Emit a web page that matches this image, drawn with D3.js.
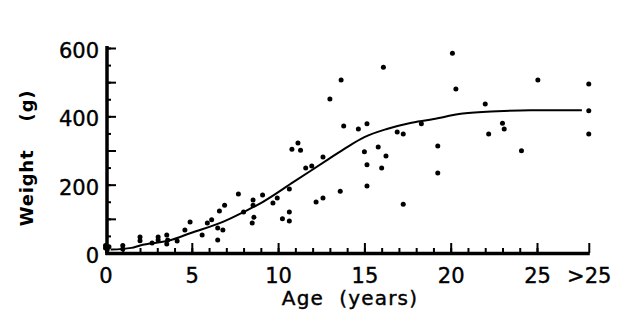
<!DOCTYPE html>
<html>
<head>
<meta charset="utf-8">
<script src="https://cdn.jsdelivr.net/npm/d3@7"></script>
<style>
  html, body { margin: 0; padding: 0; background: #fff; }
  svg { display: block; }
  text { font-family: "DejaVu Sans", sans-serif; fill: #000; }
</style>
</head>
<body>
<svg id="chart" width="621" height="327"></svg>
<script>
// ---- Data ----
// age 28 stands for the ">25" group
const pointAges = [
  0, 0, 0.1, 0.2, 1.0, 1.0, 2.0, 2.0, 2.7, 3.05, 3.05, 3.55, 3.6, 3.55, 4.15, 4.6, 4.9,
  5.6, 5.9, 6.15, 6.5, 6.5, 6.8, 6.6, 6.9, 7.7, 8.0, 8.55, 8.55, 8.6, 8.5, 9.1,
  9.7, 9.95, 10.25, 10.65, 10.65, 10.65, 10.8, 11.15, 11.3, 11.6, 11.95, 12.2, 12.6, 12.6,
  13.0, 13.6, 13.65, 13.8, 14.65, 15.0, 15.15, 15.15, 15.15, 15.8, 16.0, 16.1, 16.25,
  16.9, 17.25, 17.25, 18.3, 19.25, 19.25, 20.1, 20.3, 22.0, 22.2, 23.0, 23.1, 24.1, 25.05,
  28, 28, 28
];
const pointWeights = [
  15, 22, 10, 18, 22, 12, 47, 36, 29, 47, 38, 53, 38, 26, 35, 67, 91,
  53, 88, 97, 73, 38, 67, 123, 140, 173, 120, 155, 140, 105, 88, 170,
  146, 161, 100, 120, 94, 187, 304, 322, 301, 249, 255, 149, 161, 281,
  451, 181, 506, 372, 363, 296, 378, 258, 196, 310, 249, 544, 284,
  354, 348, 143, 378, 313, 234, 585, 480, 436, 348, 380, 363, 299, 506,
  495, 416, 348
];
const curveAges =    [0.3, 1.5, 2.0, 3.8, 4.9, 6.8, 8.0, 9.0, 10.9, 12.9, 14.0, 15.0, 16.3, 17.6, 18.8, 20.7, 22.7, 24.6, 27.6];
const curveWeights = [10,  15,  22,  38,  58,  91,  120, 146, 208,  274,  310,  339,  363,  380,  390,  408,  415,  418,  418];
const xTickValues = [0, 5, 10, 15, 20, 25, 28];
const xTickLabels = ["0", "5", "10", "15", "20", "25", ">25"];
const xMinorTicks = d3.range(0, 26);
const yTickValues = [0, 200, 400, 600];
const yMinorTicks = d3.range(0, 601, 50);

// ---- Layout ----
const svg = d3.select("#chart");
const x = d3.scaleLinear().domain([0, 25]).range([105.5, 537]);
const y = d3.scaleLinear().domain([0, 600]).range([253, 48]);

// minor ticks (x: every year, y: every 50 g)
const xMinor = d3.axisBottom(x).tickValues(xMinorTicks).tickSize(-5).tickFormat("");
const gxm = svg.append("g").attr("transform", `translate(0,${y(0)})`).call(xMinor);
const xMajor = d3.axisBottom(x).tickValues(xTickValues).tickSize(-10)
  .tickFormat((d, i) => xTickLabels[i]).tickPadding(0);
const gx = svg.append("g").attr("transform", `translate(0,${y(0)})`).call(xMajor);

const yMinor = d3.axisLeft(y).tickValues(yMinorTicks).tickSize(-4).tickFormat("");
const gym = svg.append("g").attr("transform", `translate(${x(0) + 1.5},0)`).call(yMinor);
const yMajor = d3.axisLeft(y).tickValues(d3.range(0, 601, 100)).tickSize(-9)
  .tickFormat(d => yTickValues.includes(d) ? d : "");
const gy = svg.append("g").attr("transform", `translate(${x(0) + 1.5},0)`).call(yMajor);

[gxm, gx, gym, gy].forEach(g => {
  g.select(".domain").remove();
  g.selectAll(".tick line").attr("stroke", "#000").attr("stroke-width", 2);
});

gx.selectAll(".tick text")
  .attr("font-size", 21).attr("dy", null).attr("y", 30)
  .attr("font-family", "DejaVu Sans").attr("stroke", "#000").attr("stroke-width", 0.4);
gy.selectAll(".tick text")
  .attr("font-size", 21).attr("dy", null).attr("x", -8).attr("y", 9.5)
  .attr("font-family", "DejaVu Sans").attr("stroke", "#000").attr("stroke-width", 0.4);

// axis lines
svg.append("line").attr("x1", x(0) + 1.5).attr("x2", x(0) + 1.5)
  .attr("y1", y(600) - 2).attr("y2", y(0) + 2)
  .attr("stroke", "#000").attr("stroke-width", 3.5);
svg.append("line").attr("x1", x(0)).attr("x2", x(28) + 1)
  .attr("y1", y(0) + 0.5).attr("y2", y(0) + 0.5)
  .attr("stroke", "#000").attr("stroke-width", 3.5);

// fitted curve
const line = d3.line().x((d, i) => x(curveAges[i])).y((d, i) => y(curveWeights[i]))
  .curve(d3.curveMonotoneX);
svg.append("path").attr("d", line(curveAges))
  .attr("fill", "none").attr("stroke", "#000").attr("stroke-width", 2);

// points
svg.append("g").selectAll("circle").data(pointAges).join("circle")
  .attr("cx", (d) => x(d)).attr("cy", (d, i) => y(pointWeights[i]))
  .attr("r", 2.5).attr("fill", "#000");

// axis titles
svg.append("text").attr("x", 350).attr("y", 305).attr("text-anchor", "middle")
  .attr("font-size", 20).attr("letter-spacing", 1.2).style("white-space", "pre")
  .attr("stroke", "#000").attr("stroke-width", 0.4)
  .text("Age  (years)");
svg.append("text").attr("transform", "translate(33,158) rotate(-90)")
  .attr("text-anchor", "middle").attr("font-size", 18).attr("font-weight", "bold")
  .attr("letter-spacing", 0.8)
  .style("white-space", "pre").text("Weight    (g)");
</script>
</body>
</html>
